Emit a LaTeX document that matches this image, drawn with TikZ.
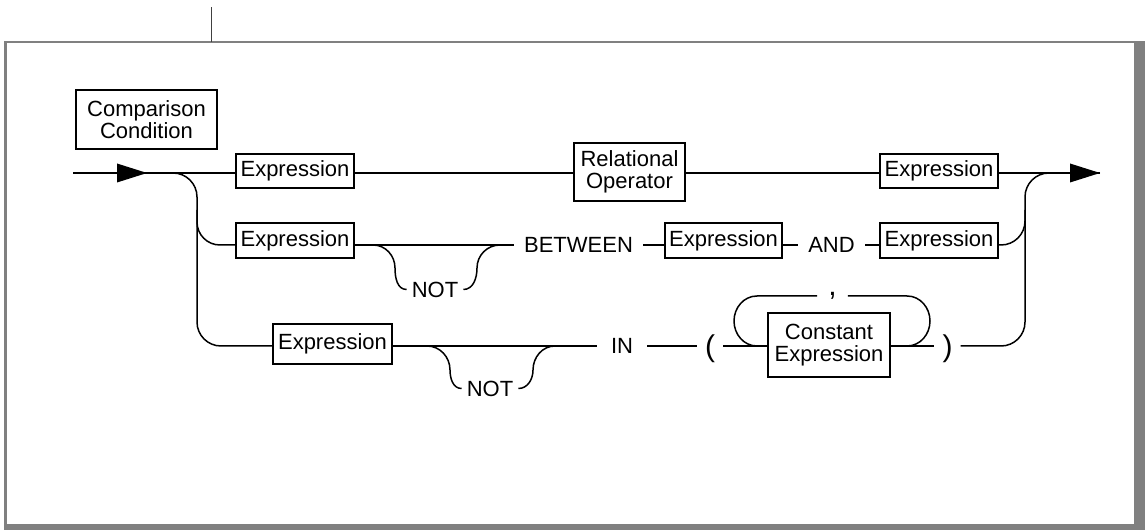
\documentclass[tikz,border=0pt]{standalone}
\usepackage{fontspec}
\setmainfont{Liberation Sans}
\begin{document}
\begin{tikzpicture}[x=1pt,y=1pt,
  every node/.style={font=\fontsize{22}{21.5}\selectfont},
  box/.style={draw, line width=1.3pt, inner sep=0pt, minimum width=118pt, minimum height=34pt, align=center},
  word/.style={inner xsep=10pt, inner ysep=0pt, text height=15.5pt, text depth=0pt},
  paren/.style={font=\fontsize{30}{30}\selectfont, inner xsep=8pt, inner ysep=0pt},
  conn/.style={line width=1.5pt},
  frm/.style={fill={rgb,255:red,128;green,128;blue,128}}
]
\useasboundingbox (0,0) rectangle (1148,530);
% frame
\fill[frm] (4,486.5) rectangle (1145,489);
\fill[frm] (4,0) rectangle (6.5,489);
\fill[frm] (1134,0) rectangle (1145,489);
\fill[frm] (4,0) rectangle (1145,6);
\draw[line width=0.9pt, black!75] (211,488) -- (211,523);

% levels
\coordinate (r1) at (0,357);
\coordinate (r2) at (0,285);
\coordinate (r3) at (0,184);
\coordinate (lt) at (0,234);

% title
\node[box, line width=2.8pt, minimum width=141pt, minimum height=59pt] (title) at (146.5,410.5) {Comparison\\Condition};

% row 1
\coordinate (start) at (73,357);
\coordinate (split) at (173,357);
\coordinate (a1) at (147,357);
\node[box] (e1) at (295,359) {Expression};
\node[box, minimum width=111pt, minimum height=58pt] (rel) at (629.5,358) {Relational\\Operator};
\node[box] (e1b) at (939,359) {Expression};
\coordinate (end) at (1100,357);

% row 2
\node[box, minimum height=35pt] (e2) at (295,289.5) {Expression};
\node[word] (between) at (578.5,285) {BETWEEN};
\node[box, minimum width=117pt, minimum height=35pt] (e2m) at (723.5,289.5) {Expression};
\node[word, inner xsep=10.5pt] (and) at (831.5,285) {AND};
\node[box, minimum height=35pt] (e2b) at (939,289.5) {Expression};
\node[word, inner xsep=5pt] (not2) at (435,240.5) {NOT};

% row 3
\node[box, minimum width=119pt, minimum height=40pt] (e3) at (332.5,186) {Expression};
\node[word, inner xsep=5pt] (not3) at (490,141.5) {NOT};
\node[word, inner xsep=14pt] (in) at (622,184) {IN};
\node[paren] (lp) at (710,181) {(};
\node[box, minimum width=122pt, minimum height=64pt] (ce) at (829,185) {Constant\\Expression};
\node[paren] (rp) at (947.5,181) {)};
\node[paren, inner xsep=11pt, anchor=base] (comma) at (832.5,234) {,};

% row 1 connectors
\draw[conn] (start) -- (e1.west |- r1);
\fill (a1) -- ++(-30,9.5) -- ++(0,-19) -- cycle;
\draw[conn] (e1.east |- r1) -- (rel.west |- r1);
\draw[conn] (rel.east |- r1) -- (e1b.west |- r1);
\draw[conn] (e1b.east |- r1) -- (end);
\fill (end) -- ++(-30,9.5) -- ++(0,-19) -- cycle;

% left branch
\draw[conn, rounded corners=24pt] (split) -| (197,184) -- (e3.west |- r3);
\draw[conn, rounded corners=23pt] (197,320) |- (e2.west |- r2);

% row 2 connectors
\draw[conn] (e2.east |- r2) -- (between.west);
\draw[conn] (between.east) -- (e2m.west |- r2);
\draw[conn] (e2m.east |- r2) -- (and.west);
\draw[conn] (and.east) -- (e2b.west |- r2);
\draw[conn] (373,285) to[out=0,in=90] (395,262) to[out=-90,in=180] (not2.west);
\draw[conn] (not2.east) to[out=0,in=-90] (477,262) to[out=90,in=180] (500,285);
\draw[conn, rounded corners=24pt] (e2b.east |- r2) -| (1025,320);

% row 3 connectors
\draw[conn] (e3.east |- r3) -- (in.west);
\draw[conn] (427,184) to[out=0,in=90] (450,160) to[out=-90,in=180] (not3.west);
\draw[conn] (not3.east) to[out=0,in=-90] (533,160) to[out=90,in=180] (555,184);
\draw[conn] (in.east) -- (lp.west |- r3);
\draw[conn] (lp.east |- r3) -- (ce.west |- r3);
\draw[conn] (ce.east |- r3) -- (rp.west |- r3);
\draw[conn] (757,184) to[out=180,in=-90] (734,209) to[out=90,in=180] (757,234) -- (comma.west |- lt);
\draw[conn] (comma.east |- lt) -- (907,234) to[out=0,in=90] (930,209) to[out=-90,in=0] (907,184);
\draw[conn, rounded corners=24pt] (rp.east |- r3) -| (1025,357) -- (1060,357);
\end{tikzpicture}
\end{document}
